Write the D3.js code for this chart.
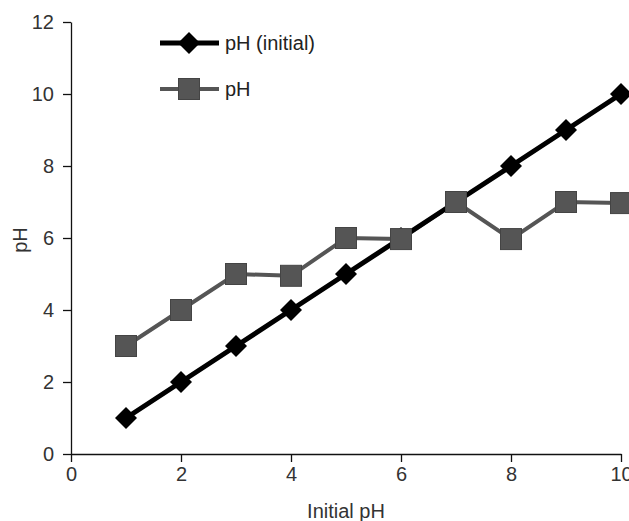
<!DOCTYPE html>
<html><head><meta charset="utf-8">
<script src="https://cdn.jsdelivr.net/npm/d3@7"></script>
<style>body{margin:0;background:#fff}svg{display:block}text{font-family:"Liberation Sans",Arial,sans-serif}</style>
</head><body>
<svg id="c" width="629" height="521"></svg>
<script>
const initialPH = [1,2,3,4,5,6,7,8,9,10];
const seriesInitial = [1,2,3,4,5,6,7,8,9,10];
const seriesFinal = [3,4,5,4.95,6,5.97,7,5.97,7,6.97];
const xTicks = [0,2,4,6,8,10];
const yTicks = [0,2,4,6,8,10,12];
const seriesNames = ["pH (initial)","pH"];
const FS = 20;

const svg = d3.select("#c");
const x = d3.scaleLinear().domain([0,10]).range([71,621]);
const y = d3.scaleLinear().domain([0,12]).range([454,22]);

const xa = svg.append("g").attr("transform","translate(0,454)")
  .call(d3.axisBottom(x).tickValues(xTicks).tickSize(8).tickSizeOuter(0).tickPadding(5));
const ya = svg.append("g").attr("transform","translate(71,0)")
  .call(d3.axisLeft(y).tickValues(yTicks).tickSize(8).tickSizeOuter(0).tickPadding(9));
[xa,ya].forEach(a=>{
  a.attr("font-size",FS).attr("font-family",null);
  a.selectAll("path,line").attr("stroke","#111").attr("stroke-width",1.3);
  a.selectAll("text").style("font-size",FS+"px").attr("fill","#333");
});

svg.append("text").attr("x",346).attr("y",518).attr("text-anchor","middle")
  .style("font-size",FS+"px").attr("fill","#333").text("Initial pH");
svg.append("text").attr("transform","translate(27,240) rotate(-90)").attr("text-anchor","middle")
  .style("font-size",FS+"px").attr("fill","#333").text("pH");

const line = d3.line().x(d=>x(d[0])).y(d=>y(d[1]));
const dFinal = initialPH.map((v,i)=>[v,seriesFinal[i]]);
const dInit = initialPH.map((v,i)=>[v,seriesInitial[i]]);

const diamond = (g,cx,cy)=>g.append("path")
  .attr("d",`M${cx},${cy-11}L${cx+11},${cy}L${cx},${cy+11}L${cx-11},${cy}Z`).attr("fill","#000");
const square = (g,cx,cy)=>g.append("rect").attr("x",cx-10.5).attr("y",cy-10.5)
  .attr("width",21).attr("height",21).attr("fill","#555").attr("stroke","#444").attr("stroke-width",1);

svg.append("path").datum(dFinal).attr("d",line).attr("fill","none").attr("stroke","#555").attr("stroke-width",4);
svg.append("path").datum(dInit).attr("d",line).attr("fill","none").attr("stroke","#000").attr("stroke-width",5);
const gd = svg.append("g");
dInit.forEach(d=>diamond(gd,x(d[0]),y(d[1])));
const gs = svg.append("g");
dFinal.forEach(d=>square(gs,x(d[0]),y(d[1])));

const lg = svg.append("g");
lg.append("line").attr("x1",160).attr("x2",219).attr("y1",43).attr("y2",43).attr("stroke","#000").attr("stroke-width",5);
diamond(lg,189,43);
lg.append("text").attr("x",225).attr("y",50).style("font-size",FS+"px").attr("fill","#222").text(seriesNames[0]);
lg.append("line").attr("x1",160).attr("x2",219).attr("y1",89).attr("y2",89).attr("stroke","#555").attr("stroke-width",4);
square(lg,189,89);
lg.append("text").attr("x",225).attr("y",96).style("font-size",FS+"px").attr("fill","#222").text(seriesNames[1]);
</script>
</body></html>
